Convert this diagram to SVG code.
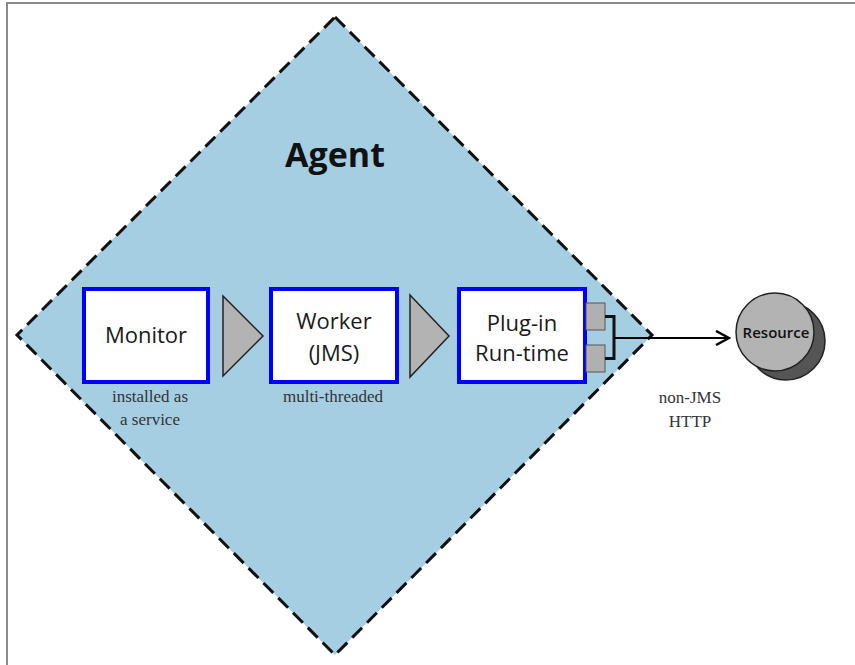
<svg xmlns="http://www.w3.org/2000/svg" width="855" height="665" viewBox="0 0 855 665">
<defs>
<style>
.frame{stroke:#8a8a8a;stroke-width:2;fill:none}
.box{fill:#fff;stroke:#0000ff;stroke-width:4}
.lbl{font-family:"Open Sans","Liberation Sans",sans-serif;font-size:22px;fill:#1a1a1a;text-anchor:middle}
.note{font-family:"Liberation Serif",serif;font-size:17px;fill:#333;text-anchor:middle}
.tri{fill:#b3b3b3;stroke:#222;stroke-width:1.5}
.port{fill:#b0b0b0;stroke:#555;stroke-width:1}
</style>
<marker id="open" markerWidth="16" markerHeight="16" refX="14" refY="8" orient="auto" markerUnits="userSpaceOnUse">
<path d="M1,1 L14,8 L1,15" fill="none" stroke="#000" stroke-width="2.5"/>
</marker>
</defs>
<rect width="855" height="665" fill="#fff"/>
<path class="frame" d="M7,665 V3 H855"/>
<g id="agent">
<polygon points="335,17 652,335 335,655 17,335" fill="#a6cee3" stroke="#111" stroke-width="3" stroke-dasharray="14,7"/>
<text x="335" y="167" font-family="Open Sans,Liberation Sans,sans-serif" font-weight="bold" font-size="34" fill="#111" text-anchor="middle">Agent</text>
</g>
<g id="monitor">
<rect class="box" x="84" y="289" width="124" height="93"/>
<text class="lbl" x="146" y="343">Monitor</text>
<text class="note" x="150" y="402">installed as</text>
<text class="note" x="150" y="425">a service</text>
</g>
<g id="worker">
<rect class="box" x="271" y="289" width="126" height="93"/>
<text class="lbl" x="334" y="329">Worker</text>
<text class="lbl" x="334" y="361">(JMS)</text>
<text class="note" x="333" y="402">multi-threaded</text>
</g>
<g id="plugin">
<rect class="box" x="459" y="289" width="126" height="93"/>
<text class="lbl" x="522" y="331">Plug-in</text>
<text class="lbl" x="522" y="361">Run-time</text>
<rect class="port" x="586" y="303" width="19" height="27"/>
<rect class="port" x="586" y="345" width="19" height="27"/>
</g>
<g id="resource">
<circle cx="786" cy="341" r="39" fill="#555" stroke="#222" stroke-width="1.5"/>
<circle cx="775" cy="332" r="39" fill="#b3b3b3" stroke="#222" stroke-width="1.5"/>
<text x="776" y="338" font-family="Open Sans,Liberation Sans,sans-serif" font-weight="600" font-size="15" fill="#111" text-anchor="middle">Resource</text>
</g>
<g id="connectors">
<polygon class="tri" points="223,296 263,336 223,376"/>
<polygon class="tri" points="410,295 449,336 410,377"/>
<path d="M605,316.5 H614 V358.5 H605" fill="none" stroke="#111" stroke-width="3"/>
<line x1="614" y1="338" x2="729" y2="338" stroke="#000" stroke-width="2" marker-end="url(#open)"/>
<text class="note" x="690" y="403">non-JMS</text>
<text class="note" x="690" y="427">HTTP</text>
</g>
</svg>
